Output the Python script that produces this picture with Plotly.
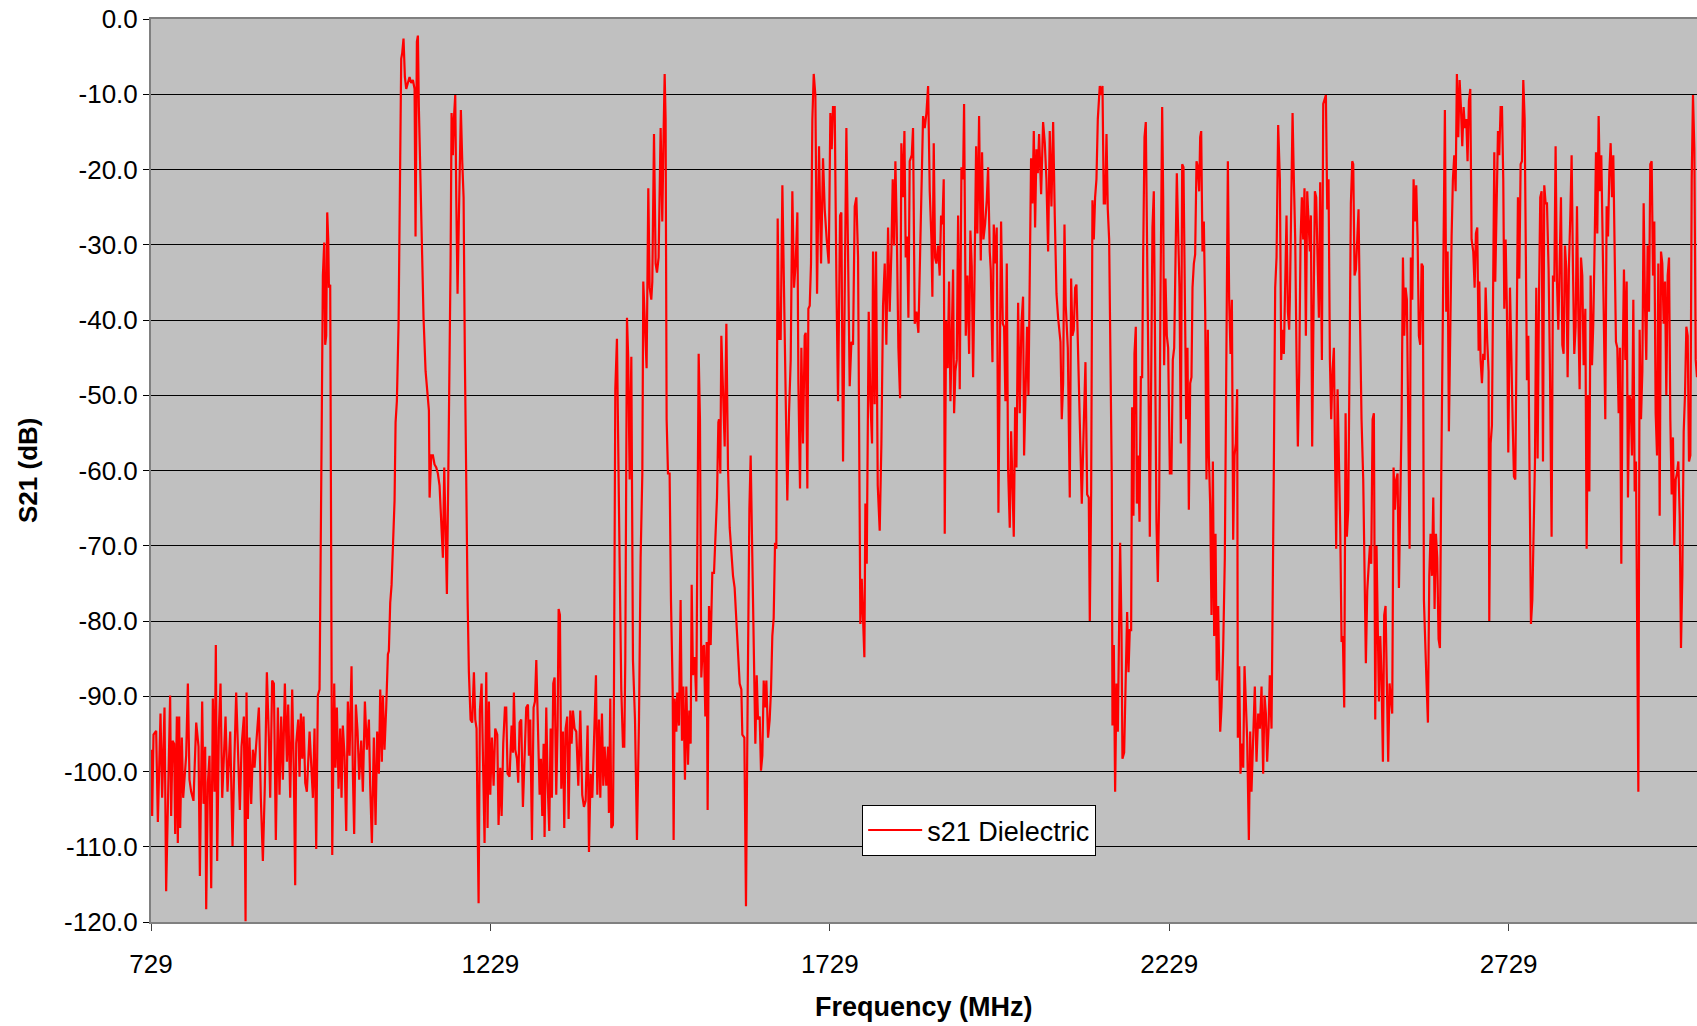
import plotly.graph_objects as go

# ---- Data (frequency in MHz, S21 in dB) ----
freq1 = [729.2,730.7,732.7,736.6,739.1,743.0,745.4,748.9,751.3,754.3,757.2,758.7,760.7,763.1,764.6,767.1,768.5,770.5,772.0,774.4,776.4,780.8,783.3,785.7,788.2,791.6,795.6,799.0,801.0,804.4,806.4,808.8,810.3,812.8,815.2,817.7,820.1,822.6,824.5,826.5,829.0,831.4,833.9,838.8,841.7,845.7,849.1,851.6,854.5,857.4,859.9,862.4,865.8,868.3,869.7,871.7,874.1,876.6,879.1,881.5,884.0,887.9,890.8,893.8,896.7,899.7,902.6,904.6,907.5,910.0,912.9,915.9,918.3,920.8,923.3,926.2,929.2,931.1,934.1,937.0,939.5,941.4,942.9,945.9,947.8,949.8,951.8,953.7,956.2,958.6,962.6,964.5,967.5,969.9,972.4,974.8,977.3,980.7,982.2,984.2,985.6,987.1,988.6,990.1,991.1,993.0,994.5,996.0]
db1 = [-97.1,-105.9,-95.1,-94.6,-106.7,-92.3,-103.5,-91.5,-115.9,-101.9,-89.9,-105.9,-95.9,-96.3,-108.3,-92.7,-109.5,-92.7,-107.5,-95.5,-103.5,-97.9,-88.3,-101.1,-102.7,-103.9,-93.5,-96.7,-113.9,-90.7,-104.3,-96.7,-118.3,-101.5,-97.9,-115.5,-90.3,-102.7,-83.2,-111.9,-94.3,-88.3,-103.5,-92.7,-102.7,-94.7,-109.9,-99.1,-89.5,-97.9,-105.1,-96.7,-92.7,-119.9,-89.5,-106.3,-95.5,-104.3,-97.1,-99.5,-96.7,-91.5,-103.5,-111.9,-101.9,-86.8,-95.5,-103.5,-87.9,-88.3,-109.1,-91.5,-103.1,-92.7,-101.1,-88.3,-98.7,-91.1,-103.5,-89.1,-100.7,-115.1,-96.3,-93.1,-100.7,-92.3,-98.3,-92.7,-101.5,-102.7,-94.7,-97.9,-103.5,-94.3,-110.3,-89.9,-89.1,-51.6,-34.1,-29.7,-43.3,-42.1,-25.7,-29.3,-35.7,-35.3,-69.2,-111.1]

freq2 = [998.9,1000.8,1002.8,1005.3,1007.7,1009.7,1011.6,1014.1,1016.6,1019.0,
         1021.5,1024.4,1026.4,1028.3,1030.8,1033.3,1035.7,1038.7,1041.1,1044.1,
         1047.0,1050.0,1051.9,1054.4,1057.3,1059.8,1062.2,1064.7,1066.7,1069.1,
         1070.6,1073.0,1075.5,1078.0,1079.4,1081.4,1083.4,1085.3,1087.8,1089.3,
         1091.2,1093.7,1096.1,1097.6,1099.1,1101.0,1103.0,1105.0,1107.4,1109.9,
         1112.3,1114.8,1117.3,1118.7,1120.7,1122.2,1123.6,1125.6,1128.1,1130.5,
         1133.5,1135.9,1138.4,1139.4,1141.8,1144.3,1146.7,1149.2,1151.6,1154.1,
         1156.6,1159.0,1161.0,1162.9,1164.9,1166.9,1168.8,1170.3,1171.8,1173.7,
         1175.2,1177.2,1178.7,1180.6,1182.6,1185.5,1187.5,1189.5,1191.4,1193.4,
         1195.4,1197.3,1199.8,1202.2,1204.7,1206.7,1208.6,1210.1,1211.6,1213.5,
         1216.0,1218.0,1220.4,1222.9,1224.8,1226.8,1228.8,1231.2,1233.7,1236.1,
         1239.1,1241.0,1243.5,1245.5,1247.9,1250.4,1252.3,1254.3,1257.2,1260.2,
         1262.2,1263.6,1265.6,1268.1,1270.0,1272.0,1274.4,1276.9,1279.4,1281.8,
         1284.3]
db2 = [-88.3,-99.5,-91.5,-102.3,-94.3,-103.5,-93.9,-97.9,-107.9,-90.7,
       -97.9,-86.0,-100.3,-108.3,-91.1,-94.7,-101.1,-95.9,-102.7,-90.7,
       -97.1,-93.1,-101.9,-109.5,-95.5,-107.1,-94.7,-100.3,-89.1,-98.7,
       -89.9,-97.1,-91.5,-84.4,-84.0,-77.6,-75.2,-70.0,-64.0,-53.6,
       -50.8,-40.5,-22.1,-5.3,-4.5,-2.6,-7.7,-9.3,-8.5,-7.7,
       -8.5,-8.1,-9.3,-28.9,-3.0,-2.2,-11.7,-21.3,-33.3,-39.7,
       -46.8,-50.0,-52.0,-63.6,-58.0,-58.0,-59.2,-59.6,-60.4,-62.0,
       -66.0,-71.6,-59.6,-66.8,-76.4,-61.2,-47.6,-32.5,-12.5,-18.1,
       -13.3,-10.1,-23.7,-36.5,-26.1,-12.1,-18.9,-23.7,-45.3,-65.2,
       -77.2,-86.8,-93.1,-93.5,-86.8,-93.1,-94.3,-106.7,-117.5,-91.9,
       -88.3,-97.9,-109.5,-86.8,-107.5,-90.7,-103.1,-95.5,-101.9,-94.3,
       -95.1,-107.1,-99.5,-105.9,-96.3,-91.5,-91.5,-100.3,-100.7,-93.9,
       -97.5,-89.5,-97.1,-98.3,-101.5,-93.5,-93.1,-104.7,-96.3,-91.5,
       -91.1]

freq3 = [1285.8,1287.7,1290.2,1292.6,1294.6,1296.6,1299.0,1301.5,1303.4,1305.4,
         1307.4,1308.8,1311.3,1313.3,1315.7,1317.7,1319.6,1321.6,1323.6,1326.0,
         1328.0,1329.5,1331.4,1333.4,1335.9,1337.8,1339.8,1342.2,1344.2,1346.7,
         1348.6,1350.6,1353.0,1355.5,1358.5,1361.4,1364.3,1366.8,1369.3,1372.2,
         1374.2,1376.6,1379.1,1382.5,1384.5,1386.5,1388.9,1390.9,1393.3,1395.3,
         1397.3,1399.7,1402.2,1403.6,1405.6,1407.1,1409.5,1411.0,1413.0,1415.4,
         1417.4,1419.4,1421.8,1424.3,1426.2,1427.7,1430.2,1432.1,1434.1,1436.6,
         1439.0,1442.0,1444.9,1447.9,1450.3,1452.8,1454.2,1456.7,1459.1,1461.6,
         1463.6,1466.0,1467.5,1470.0,1472.4,1474.4,1476.8,1479.8,1482.2,1484.2,
         1485.7,1487.1,1488.6,1490.6,1493.0,1495.0,1497.5,1498.9,1500.4,1502.9,
         1504.3,1506.8,1509.2,1511.2,1513.2,1515.6,1517.6,1520.1,1522.0,1524.0,
         1525.5,1527.4,1529.9,1532.3,1533.8,1535.8,1537.7,1539.7,1541.7,1543.6,
         1545.6,1547.6,1549.0,1551.0,1553.5,1555.9,1558.4,1560.8,1562.8,1564.8]
db3 = [-97.9,-93.1,-109.1,-91.5,-90.7,-85.2,-96.3,-103.1,-98.3,-105.9,
       -96.3,-108.7,-91.5,-101.5,-107.9,-94.3,-103.5,-88.3,-87.5,-103.1,
       -93.9,-78.4,-79.2,-102.3,-94.7,-107.5,-94.3,-92.7,-106.3,-91.9,
       -96.3,-91.9,-94.3,-94.7,-101.9,-91.9,-103.1,-104.7,-103.9,-93.9,
       -110.7,-100.3,-103.5,-94.3,-87.2,-103.1,-93.1,-103.5,-92.3,-101.9,
       -96.7,-101.9,-96.7,-105.5,-90.3,-107.5,-107.1,-89.9,-49.2,-42.5,
       -61.2,-72.4,-89.1,-96.7,-96.7,-85.2,-39.7,-45.3,-61.2,-44.9,
       -85.2,-93.1,-109.1,-93.1,-71.6,-60.4,-34.9,-42.1,-46.4,-22.5,
       -35.7,-37.3,-34.9,-15.3,-32.5,-33.7,-31.7,-14.5,-26.9,-14.9,
       -7.3,-13.3,-53.2,-60.4,-60.4,-77.2,-89.1,-109.1,-90.3,-94.7,
       -89.5,-93.9,-77.2,-95.9,-88.7,-101.1,-88.7,-99.1,-91.9,-96.3,
       -75.2,-87.2,-84.8,-90.7,-66.8,-44.5,-53.2,-87.5,-83.6,-83.2,
       -92.7,-82.8,-105.1,-78.0,-83.2,-73.6,-73.6,-69.2,-63.6,-53.6]

freq4 = [1565.8,1567.7,1569.2,1571.6,1574.1,1576.6,1579.0,1581.5,1583.9,1586.4,
         1588.8,1591.3,1593.8,1596.2,1598.7,1600.1,1603.1,1605.5,1608.0,1610.5,
         1612.4,1614.9,1617.3,1619.3,1621.3,1623.2,1625.7,1627.6,1629.6,1631.6,
         1633.5,1635.5,1638.0,1640.4,1642.4,1644.3,1646.3,1648.3,1650.2,1652.2,
         1654.2,1656.6,1659.1,1661.5,1664.0,1666.4,1668.9,1671.4,1673.8,1676.3,
         1678.7,1681.2,1682.7,1685.1,1687.1,1689.5,1692.0,1693.5,1695.9,1697.4,
         1699.4,1701.3,1703.3,1705.3,1707.7,1710.2,1713.1,1716.1,1719.0,1721.5,
         1724.4,1727.4,1729.8,1731.8,1733.7,1736.2,1738.7,1741.1,1744.1,1746.0,
         1748.5,1750.9,1753.4,1755.8,1758.3,1760.8,1763.2,1765.7,1768.1,1770.6,
         1772.1,1774.0,1776.0,1778.0,1779.9,1781.4,1783.4,1786.3,1788.8,1791.2,
         1792.7,1795.1,1797.1,1799.6,1802.5,1805.0,1807.4,1809.9,1812.3,1814.8,
         1817.2,1819.7,1821.7,1823.6,1825.6,1827.6,1830.0,1832.5,1834.4,1836.9,
         1838.9,1840.8,1842.8,1844.8]
db4 = [-53.2,-60.4,-42.1,-49.2,-56.8,-40.5,-59.6,-67.6,-71.6,-74.0,
       -75.6,-80.0,-84.0,-88.3,-89.1,-95.1,-95.5,-117.9,-89.9,-65.2,
       -58.0,-74.0,-86.8,-96.3,-87.2,-93.1,-92.7,-99.9,-97.9,-87.9,
       -91.5,-87.9,-95.5,-93.1,-89.1,-82.0,-79.6,-69.6,-70.4,-26.5,
       -42.5,-42.5,-22.1,-35.7,-46.4,-64.0,-52.4,-45.3,-22.9,-35.7,
       -32.5,-25.7,-48.4,-62.4,-43.7,-56.4,-42.1,-41.7,-62.4,-38.5,
       -38.1,-32.5,-13.3,-7.3,-10.1,-36.5,-16.9,-32.5,-18.5,-25.3,
       -29.3,-32.5,-12.5,-17.3,-11.7,-11.7,-34.9,-50.8,-26.1,-25.7,
       -58.8,-37.3,-14.5,-30.9,-48.8,-42.9,-43.3,-24.9,-23.7,-31.7,
       -58.0,-80.4,-74.4,-80.4,-84.8,-64.4,-72.4,-38.9,-50.8,-56.4,
       -30.9,-51.2,-30.9,-62.0,-68.0,-56.4,-38.1,-32.5,-43.3,-27.7,
       -38.9,-30.9,-21.3,-30.1,-18.9,-27.7,-43.7,-50.4,-16.5,-23.7,
       -14.9,-31.7,-28.9,-39.7]

freq5 = [1846.7,1849.7,1851.6,1854.1,1856.6,1859.5,1862.5,1864.4,1866.4,1868.8,
         1871.3,1873.8,1876.2,1878.7,1880.1,1882.1,1884.1,1886.0,1888.5,1890.9,
         1892.9,1894.9,1896.8,1898.3,1900.3,1902.7,1904.7,1906.7,1908.6,1910.6,
         1912.1,1914.0,1916.0,1918.0,1920.4,1922.9,1925.3,1926.8,1929.3,1931.7,
         1934.2,1936.1,1938.1,1940.1,1942.0,1944.5,1946.4,1948.9,1951.4,1953.3,
         1955.3,1957.7,1960.2,1962.2,1964.6,1966.1,1968.6,1970.5,1973.0,1974.9,
         1977.4,1979.4,1981.3,1983.8,1985.7,1987.7,1989.7,1991.6,1994.1,1996.1,
         1998.0,2000.0,2002.0,2003.9,2006.4,2008.8,2011.3,2013.7,2015.2,2017.7,
         2019.6,2021.6,2023.6,2025.5,2027.5,2029.5,2031.4,2033.4,2035.4,2037.3,
         2040.3,2043.2,2045.7,2048.1,2050.6,2053.0,2055.5,2058.0,2060.4,2062.9,
         2065.3,2068.8,2070.7,2072.7,2074.7,2076.6,2079.6,2082.5,2084.5,2086.4,
         2088.4,2090.4,2092.3,2094.8,2097.2,2100.2,2103.1,2105.6,2108.1,2110.5,
         2112.0,2114.0,2115.9,2117.9,2119.8,2121.8,2123.8,2125.7]
db5 = [-18.9,-18.1,-14.5,-40.5,-38.9,-41.7,-28.5,-21.3,-12.9,-14.5,
       -12.5,-8.9,-22.9,-29.3,-36.9,-16.5,-31.7,-32.5,-30.1,-34.1,
       -26.1,-27.3,-21.3,-68.4,-40.1,-46.4,-34.9,-50.8,-42.9,-33.3,
       -52.4,-46.8,-45.3,-26.1,-49.2,-19.7,-21.3,-11.3,-42.1,-34.1,
       -44.5,-28.1,-32.9,-47.6,-35.7,-16.9,-28.5,-12.9,-32.1,-17.7,
       -29.3,-27.3,-24.1,-19.7,-30.9,-33.3,-45.6,-27.3,-32.5,-27.7,
       -65.6,-45.3,-26.9,-40.5,-40.9,-50.8,-32.5,-59.6,-67.6,-54.8,
       -60.4,-68.8,-51.6,-59.6,-37.7,-52.4,-40.5,-36.9,-58.0,-46.4,
       -40.9,-50.0,-34.1,-18.5,-24.5,-14.9,-27.7,-17.3,-20.5,-15.3,
       -23.3,-13.7,-16.5,-21.3,-30.9,-14.9,-24.9,-13.7,-26.1,-36.5,
       -39.7,-42.9,-53.2,-48.4,-27.3,-38.1,-43.7,-63.6,-34.5,-42.1,
       -41.3,-35.7,-35.3,-43.7,-53.2,-64.4,-54.0,-45.6,-63.2,-63.6,
       -80.0,-62.8,-24.1,-29.3,-23.7,-21.3,-13.3,-9.3]

freq6 = [2126.7,2128.7,2130.7,2132.6,2134.6,2136.6,2138.5,2140.5,2142.5,2144.4,
         2145.4,2147.4,2149.3,2151.3,2153.3,2155.2,2156.7,2158.7,2160.1,2162.6,
         2165.0,2167.0,2169.0,2170.9,2172.9,2174.4,2176.3,2177.8,2179.8,2181.3,
         2183.2,2185.2,2187.2,2189.1,2190.6,2192.6,2194.5,2196.5,2198.5,2200.4,
         2202.4,2204.3,2206.3,2208.3,2210.2,2212.2,2214.2,2216.1,2218.6,2220.1,
         2221.5,2223.5,2225.5,2227.4,2229.9,2232.3,2234.3,2236.3,2238.2,2240.2,
         2242.2,2244.1,2246.1,2248.1,2250.0,2252.0,2254.0,2255.9,2257.9,2259.9,
         2261.8,2263.3,2265.3,2267.2,2269.2,2271.2,2273.1,2274.6,2276.1,2278.0,
         2280.0,2282.0,2283.9,2285.9,2287.4,2289.3,2291.3,2293.3,2295.2,2297.2,
         2299.1,2301.1,2303.1,2304.1,2306.0,2308.5,2310.9,2313.4,2315.4,2317.3,
         2319.3,2321.3,2323.2,2325.2,2327.1,2329.1,2330.1,2332.1,2334.0,2336.0,
         2338.0,2339.9,2341.9,2343.8,2346.3,2348.3,2350.2,2352.7,2355.1,2357.6,
         2360.1,2362.5,2365.0,2367.4,2369.4,2371.4,2373.3,2375.3,2377.2,2379.7,
         2381.2,2383.1,2385.1,2387.1,2389.5,2392.0,2394.0,2395.9,2397.9,2399.8,
         2401.8,2403.8,2405.7]
db6 = [-8.9,-10.1,-8.9,-24.5,-24.5,-15.3,-25.3,-29.3,-50.0,-61.2,
       -93.9,-83.2,-102.7,-88.3,-94.7,-82.0,-69.6,-81.2,-98.3,-97.5,
       -88.3,-78.8,-86.8,-81.2,-81.2,-51.6,-66.0,-44.5,-40.9,-64.4,
       -58.0,-66.8,-47.6,-47.6,-31.7,-15.7,-13.7,-27.7,-48.4,-68.8,
       -42.9,-27.7,-22.9,-50.0,-66.8,-74.8,-63.6,-37.3,-11.7,-23.7,
       -46.0,-34.5,-42.1,-43.7,-60.4,-60.4,-45.3,-43.7,-33.3,-20.5,
       -28.5,-35.7,-56.4,-19.3,-19.7,-37.3,-53.2,-43.7,-65.2,-48.4,
       -47.6,-35.7,-32.5,-31.3,-18.9,-19.7,-22.9,-15.7,-14.9,-30.9,
       -26.9,-38.9,-61.2,-41.3,-58.0,-64.4,-79.2,-58.8,-82.0,-68.4,
       -87.9,-78.0,-89.9,-94.7,-91.5,-83.6,-71.6,-43.7,-18.9,-37.3,
       -44.5,-37.3,-69.2,-58.0,-56.4,-49.2,-95.5,-86.0,-100.3,-96.3,
       -99.5,-86.0,-89.9,-95.5,-109.1,-94.7,-102.7,-96.3,-88.7,-98.7,
       -92.3,-94.3,-88.7,-100.3,-89.9,-92.3,-98.7,-94.3,-87.2,-94.3,
       -82.0,-59.6,-35.7,-31.7,-14.1,-21.3,-45.3,-41.3,-44.5,-34.1,
       -26.1,-38.9,-41.3]

freq7 = [2406.7,2408.7,2410.7,2412.6,2414.6,2416.6,2418.5,2420.5,2422.5,2424.4,
         2426.4,2428.3,2430.3,2432.3,2434.2,2436.2,2437.7,2439.6,2441.6,2443.6,
         2445.5,2447.5,2449.5,2451.4,2453.9,2455.9,2457.8,2459.8,2461.8,2463.7,
         2465.7,2467.6,2469.6,2471.6,2473.5,2475.0,2477.0,2478.9,2480.9,2482.9,
         2484.8,2486.8,2488.8,2490.7,2492.7,2494.7,2496.6,2498.6,2500.1,2502.0,
         2504.0,2506.0,2507.9,2509.9,2512.3,2514.8,2516.8,2518.7,2520.7,2522.7,
         2524.6,2526.6,2528.6,2530.5,2532.5,2534.4,2536.4,2537.9,2539.9,2541.8,
         2543.8,2545.7,2547.7,2549.7,2551.6,2553.6,2555.6,2557.5,2559.5,2561.5,
         2563.4,2565.4,2567.4,2569.3,2571.3,2573.3,2575.2,2577.2,2579.1,2581.1,
         2583.1,2585.0,2587.0,2589.0,2590.9,2592.9,2594.9,2596.8,2598.8,2600.8,
         2602.7,2604.2,2606.2,2608.1,2610.1,2612.1,2614.0,2616.0,2618.0,2619.9,
         2621.9,2623.8,2625.8,2627.8,2629.7,2631.7,2633.7,2635.1,2637.1,2639.1,
         2641.0,2643.0,2645.0,2646.9,2648.9,2650.9,2652.8,2654.8,2656.8,2658.7,
         2660.7,2662.7,2664.6,2666.6,2668.5,2670.5,2672.5,2674.4,2676.9,2678.9,
         2680.8,2682.8,2684.8]
db7 = [-37.3,-26.9,-12.5,-21.3,-29.3,-45.3,-56.8,-46.8,-29.3,-23.7,
       -29.3,-22.5,-42.1,-22.9,-26.1,-30.9,-26.1,-56.8,-38.9,-22.9,
       -23.7,-30.9,-39.7,-21.7,-45.3,-11.3,-10.5,-10.1,-25.3,-21.3,
       -45.3,-53.2,-46.8,-43.7,-59.6,-70.4,-49.2,-58.0,-67.6,-82.8,
       -82.0,-91.5,-52.4,-68.8,-65.2,-45.3,-24.5,-18.9,-19.3,-34.1,
       -33.3,-29.3,-25.3,-38.9,-53.2,-61.2,-78.0,-85.6,-76.0,-72.4,
       -70.0,-72.4,-53.2,-52.4,-93.1,-70.0,-81.2,-90.7,-82.0,-87.5,
       -98.7,-79.2,-78.0,-86.8,-98.7,-88.3,-90.7,-92.3,-59.6,-65.2,
       -61.2,-60.4,-75.6,-66.8,-53.2,-31.7,-42.1,-35.7,-37.3,-53.2,
       -70.4,-31.7,-37.3,-21.3,-26.9,-22.1,-29.3,-42.1,-43.3,-32.5,
       -32.9,-77.2,-84.4,-88.3,-93.5,-74.0,-68.4,-74.0,-63.6,-78.4,
       -68.4,-71.6,-82.4,-83.6,-61.2,-45.3,-23.7,-12.1,-38.9,-30.9,
       -54.8,-37.3,-28.9,-21.3,-18.1,-22.9,-7.3,-15.7,-8.1,-11.7,
       -16.9,-11.7,-14.5,-13.3,-18.9,-10.9,-9.3,-29.3,-30.9,-35.7,
       -28.5,-27.7,-44.1]

freq8 = [2685.8,2687.7,2689.7,2691.6,2693.6,2695.1,2697.5,2699.5,2700.5,2702.5,
         2704.4,2706.4,2707.9,2709.3,2711.3,2713.3,2715.2,2717.2,2719.2,2721.1,
         2722.6,2724.6,2726.5,2728.5,2731.0,2732.9,2734.9,2736.8,2738.8,2740.8,
         2742.7,2744.7,2746.7,2748.6,2750.6,2752.6,2754.5,2756.0,2758.0,2759.9,
         2761.9,2763.9,2765.8,2767.8,2769.7,2771.7,2773.7,2775.6,2777.6,2779.6,
         2781.5,2783.5,2785.5,2787.9,2789.9,2792.3,2794.3,2796.3,2798.2,2800.2,
         2802.2,2804.1,2806.1,2808.1,2810.0,2812.0,2814.0,2815.9,2817.9,2819.9,
         2821.8,2823.8,2825.7,2827.7,2829.7,2831.6,2833.6,2835.6,2837.5,2839.5,
         2842.0,2843.9,2845.9,2847.9,2849.8,2851.8,2853.7,2855.7,2857.7,2859.6,
         2861.6,2863.6,2865.5,2867.5,2869.5,2871.4,2873.4,2875.4,2877.3,2879.3,
         2881.3,2883.2,2885.2,2887.1,2889.1,2891.1,2893.0,2895.0,2897.0,2898.9,
         2900.9,2902.9,2904.8,2906.8,2908.8,2910.7,2912.7,2914.7,2916.6,2918.6,
         2920.1,2922.0,2924.0,2926.0,2927.9,2929.9,2931.8,2933.8,2935.8,2937.7,
         2939.7,2941.7,2943.6,2945.6,2947.6,2949.5,2951.5,2953.5,2955.4,2957.4,
         2959.4,2961.3,2963.3,2965.3,2967.2,2969.2,2971.1,2973.1,2975.1,2977.0,
         2979.0,2981.0,2982.9,2984.9,2986.9,2988.8,2990.8,2992.8,2994.7,2996.7,
         2998.7,3000.6,3002.6,3004.6,3006.5]
db8 = [-34.9,-45.3,-48.4,-44.5,-45.3,-35.7,-42.9,-46.8,-80.0,-56.4,
       -54.0,-32.5,-17.7,-34.9,-21.3,-14.9,-18.1,-11.7,-11.7,-21.3,
       -38.5,-29.3,-38.9,-57.6,-35.7,-46.0,-53.2,-60.8,-61.2,-42.1,
       -23.7,-34.5,-19.3,-18.9,-8.1,-13.3,-34.1,-48.0,-42.1,-62.8,
       -80.4,-77.2,-69.2,-58.8,-35.7,-58.4,-37.3,-23.7,-22.9,-58.8,
       -22.1,-24.5,-24.5,-33.3,-46.8,-68.8,-34.1,-34.9,-16.9,-34.9,
       -41.3,-30.9,-23.7,-43.3,-44.5,-30.1,-33.3,-47.6,-32.5,-26.1,
       -18.1,-33.3,-44.5,-40.9,-24.9,-38.9,-49.2,-31.7,-34.1,-46.0,
       -38.5,-70.4,-50.0,-62.8,-34.1,-46.0,-40.5,-30.1,-17.7,-28.5,
       -12.9,-22.9,-18.1,-29.3,-42.1,-53.2,-24.9,-28.9,-20.5,-16.5,
       -23.7,-18.1,-30.9,-42.9,-43.7,-52.4,-43.7,-72.4,-45.3,-33.3,
       -45.3,-34.9,-63.6,-50.0,-50.8,-58.0,-37.3,-62.8,-58.8,-78.0,
       -102.7,-41.3,-53.2,-46.8,-24.5,-38.1,-45.3,-30.1,-38.9,-19.3,
       -18.9,-34.1,-26.9,-52.4,-58.0,-32.5,-66.0,-30.9,-32.5,-40.5,
       -34.9,-50.0,-34.1,-31.7,-53.2,-63.2,-55.6,-70.0,-61.2,-60.4,
       -58.8,-66.0,-83.6,-74.0,-54.8,-50.0,-40.9,-42.1,-58.8,-58.0,
       -21.3,-10.1,-17.3,-45.3,-47.6]

x_tick_vals = [729, 1229, 1729, 2229, 2729]
x_tick_text = ["729", "1229", "1729", "2229", "2729"]
y_tick_vals = [0, -10, -20, -30, -40, -50, -60, -70, -80, -90, -100, -110, -120]
y_tick_text = ["0.0", "-10.0", "-20.0", "-30.0", "-40.0", "-50.0", "-60.0",
               "-70.0", "-80.0", "-90.0", "-100.0", "-110.0", "-120.0"]
series_name = "s21 Dielectric"
x_title = "Frequency (MHz)"
y_title = "S21 (dB)"

segments = [(freq1, db1), (freq2, db2), (freq3, db3), (freq4, db4),
            (freq5, db5), (freq6, db6), (freq7, db7), (freq8, db8)]
freq, s21 = [], []
for i, (f, d) in enumerate(segments):
    assert len(f) == len(d), (i + 1, len(f), len(d))
    freq += f
    s21 += d

FONT = "Liberation Sans, Arial, sans-serif"

fig = go.Figure()
fig.add_trace(go.Scatter(
    x=freq, y=s21, mode="lines", name=series_name,
    line=dict(color="#FF0000", width=2.2),
    showlegend=True,
))

fig.update_layout(
    width=1697, height=1026, autosize=False,
    margin=dict(l=151, r=0, t=19, b=104, pad=0),
    paper_bgcolor="#FFFFFF",
    plot_bgcolor="#C0C0C0",
    font=dict(family=FONT, color="#000000", size=25),
    showlegend=True,
    legend=dict(
        x=0.460, y=0.1296, xanchor="left", yanchor="top",
        bgcolor="#FFFFFF", bordercolor="#000000", borderwidth=1,
        font=dict(family=FONT, size=27, color="#000000"),
        itemwidth=54,
    ),
    xaxis=dict(
        range=[729, 3006.5],
        tickmode="array", tickvals=x_tick_vals, ticktext=x_tick_text,
        ticks="outside", ticklen=7, tickwidth=1, tickcolor="#404040",
        tickfont=dict(family=FONT, size=26, color="#000000"),
        ticklabelstandoff=11,
        showgrid=False, zeroline=False,
        showline=True, linecolor="#808080", linewidth=2, mirror=True,
    ),
    yaxis=dict(
        range=[-120, 0],
        tickmode="array", tickvals=y_tick_vals, ticktext=y_tick_text,
        ticks="outside", ticklen=6, tickwidth=1, tickcolor="#000000",
        tickfont=dict(family=FONT, size=26, color="#000000"),
        ticklabelstandoff=0,
        showgrid=True, gridcolor="#000000", gridwidth=1,
        zeroline=False,
        showline=True, linecolor="#808080", linewidth=2,
    ),
    annotations=[
        dict(text="<b>" + x_title + "</b>", xref="paper", yref="paper",
             x=0.5, y=-0.0942, xanchor="center", yanchor="middle",
             showarrow=False, font=dict(family=FONT, size=27, color="#000000")),
        dict(text="<b>" + y_title + "</b>", xref="paper", yref="paper",
             x=-0.0799, y=0.5, xanchor="center", yanchor="middle",
             textangle=-90, showarrow=False,
             font=dict(family=FONT, size=26, color="#000000")),
    ],
)

fig.write_html("out.html")
